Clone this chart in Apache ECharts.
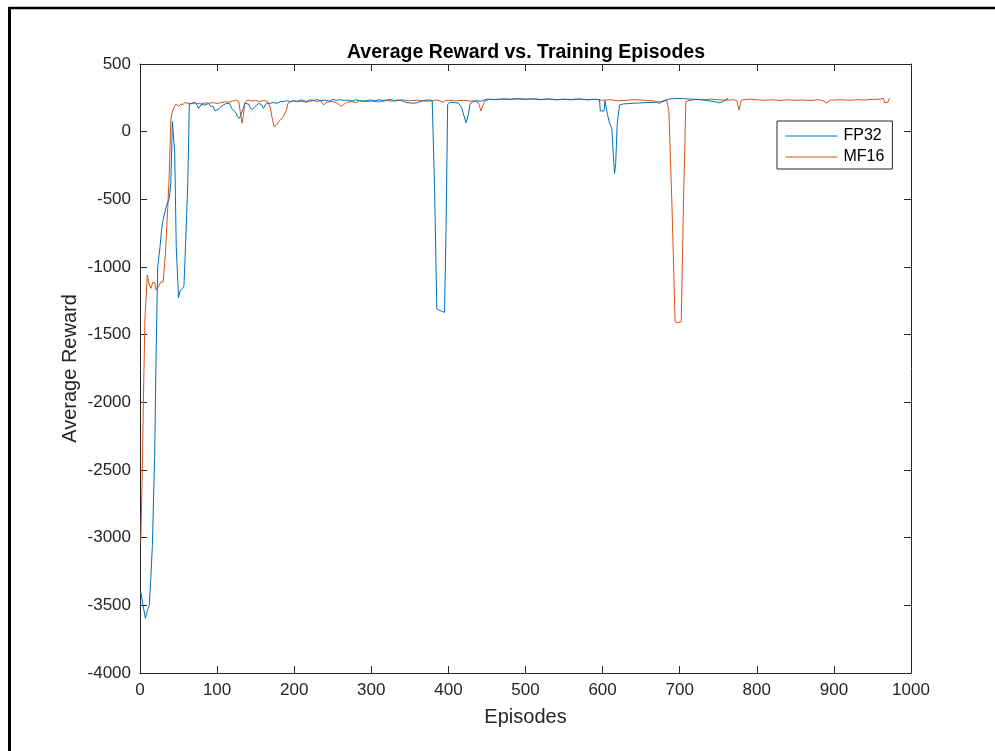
<!DOCTYPE html>
<html>
<head>
<meta charset="utf-8">
<script src="https://cdn.jsdelivr.net/npm/echarts@6/dist/echarts.min.js"></script>
<style>
html,body{margin:0;padding:0;background:#fff;}
#chart{width:995px;height:751px;}
</style>
</head>
<body>
<div id="chart"></div>
<script>
const titleText = 'Average Reward vs. Training Episodes';
const xName = 'Episodes';
const yName = 'Average Reward';
const seriesNames = ['FP32', 'MF16'];

const fp32 = [[1,-3400],[4,-3500],[7,-3596],[10,-3530],[12,-3500],[14,-3300],[16,-3066],[19,-2400],[21,-1600],[23,-1000],[26,-850],[28,-720],[30,-650],[34,-555],[38,-490],[40,-380],[42,74],[43,70],[45,-150],[47,-850],[50,-1227],[52,-1175],[55,-1160],[57,-1140],[59,-850],[62,-380],[64,210],[67,209],[71,217],[74,197],[76,172],[78,185],[80,204],[84,197],[89,209],[91,190],[93,204],[95,185],[97,155],[99,148],[102,165],[104,180],[108,197],[112,209],[116,209],[119,172],[122,155],[125,135],[126,111],[129,99],[131,91],[134,172],[136,209],[141,204],[143,172],[146,165],[149,185],[154,209],[158,197],[160,172],[162,190],[164,209],[169,209],[173,217],[177,209],[182,222],[186,222],[190,229],[195,222],[199,229],[203,222],[208,234],[212,230],[216,222],[220,234],[225,232],[230,236],[235,228],[240,234],[245,225],[250,238],[255,232],[260,236],[265,230],[270,234],[275,226],[280,236],[285,230],[290,226],[295,232],[300,234],[305,228],[310,236],[315,230],[320,234],[325,238],[330,230],[335,234],[340,228],[345,215],[350,212],[355,210],[360,215],[365,225],[370,232],[375,234],[379,230],[382,-400],[385,-1310],[388,-1320],[391,-1325],[395,-1335],[397,-700],[399,200],[402,217],[408,215],[413,210],[417,180],[420,120],[423,66],[426,130],[428,205],[432,222],[437,228],[442,225],[446,232],[450,240],[460,238],[470,242],[480,240],[490,244],[500,240],[510,243],[520,238],[530,242],[540,236],[550,240],[560,238],[570,242],[580,236],[590,240],[596,236],[597,153],[602,153],[603,229],[606,136],[609,62],[612,25],[614,-185],[615.5,-308],[617,-234],[619,62],[622,197],[627,205],[640,210],[655,214],[670,218],[680,225],[686,241],[695,245],[705,244],[715,240],[725,238],[735,230],[745,222],[752,213],[757,225],[763,247]];

const mf16 = [[1,-3030],[3,-2500],[4.3,-2007],[6.5,-1367],[9.5,-1059],[12,-1133],[14.3,-1157],[16.4,-1116],[19,-1114],[20.8,-1170],[23.8,-1145],[26.8,-1113],[30,-1110],[33,-900],[36,-560],[38,-300],[40,86],[42,150],[44,180],[47,205],[50,185],[53,205],[56,200],[58,215],[62,210],[66,205],[70,212],[75,208],[80,205],[85,213],[90,210],[95,215],[100,208],[105,215],[110,220],[115,218],[120,225],[124,234],[128,225],[130,150],[132.5,62],[134,120],[136,215],[140,234],[145,225],[150,230],[155,222],[160,230],[165,225],[169,180],[171,111],[174,37],[177,49],[180,75],[182,86],[186,111],[188,136],[190,160],[192,210],[195,222],[200,228],[205,222],[210,225],[215,218],[220,225],[225,230],[230,222],[234,230],[238,197],[242,215],[248,225],[252,220],[256,210],[261,188],[264,200],[268,218],[275,222],[280,215],[285,228],[290,222],[300,225],[310,220],[320,230],[330,226],[340,235],[350,228],[360,232],[370,225],[380,228],[385,235],[390,225],[393,215],[396,230],[400,232],[410,228],[420,232],[430,225],[436,228],[440,200],[442,153],[444,160],[447,225],[452,238],[460,236],[470,240],[480,238],[490,242],[500,238],[510,241],[520,236],[530,240],[540,236],[550,239],[560,235],[570,240],[580,236],[590,238],[600,232],[610,236],[620,228],[630,232],[640,236],[650,234],[660,230],[668,226],[672,212],[675,210],[678,228],[683,236],[686,150],[690,-550],[694,-1404],[697,-1412],[702,-1404],[705,-500],[708,222],[712,230],[720,238],[730,236],[740,240],[750,236],[760,232],[770,236],[774,230],[777,160],[780,234],[790,240],[800,236],[810,232],[820,236],[830,230],[840,236],[850,232],[860,234],[870,230],[880,236],[887,226],[891,210],[894,232],[900,234],[910,236],[920,232],[930,236],[940,234],[950,238],[960,240],[964,247],[966,213],[970,218],[972,247]];

const xMin = 0, xMax = 1000, xStep = 100;
const yMin = -4000, yMax = 500, yStep = 500;

const axisColor = '#262626';
const font = '"Liberation Sans", Arial, Helvetica, sans-serif';

const chart = echarts.init(document.getElementById('chart'), null, {renderer: 'canvas'});

const baseAxis = {
  axisLine: {show: true, onZero: false, lineStyle: {color: axisColor, width: 1}},
  axisTick: {show: true, inside: true, length: 7, lineStyle: {color: axisColor}},
  splitLine: {show: false},
};
const plain = v => String(v);

chart.setOption({
  animation: false,
  backgroundColor: '#fff',
  title: {
    text: titleText,
    left: 521, textAlign: 'center', top: 38,
    textStyle: {fontFamily: font, fontSize: 19.5, fontWeight: 'bold', color: '#000'}
  },
  grid: {left: 140, top: 64, width: 771, height: 609, containLabel: false},
  legend: {
    data: seriesNames,
    orient: 'vertical',
    left: 777, top: 121,
    padding: [7, 8, 4, 8],
    itemWidth: 52, itemHeight: 14, itemGap: 5,
    itemStyle: {opacity: 0},
    lineStyle: {width: 1},
    borderColor: axisColor, borderWidth: 1, borderRadius: 0,
    backgroundColor: '#fff',
    textStyle: {fontFamily: font, fontSize: 16, color: '#000', padding: [0, 0, 0, 1]}
  },
  xAxis: [
    Object.assign({}, baseAxis, {
      type: 'value', min: xMin, max: xMax, interval: xStep, position: 'bottom',
      name: xName, nameLocation: 'middle', nameGap: 34, nameMoveOverlap: false,
      nameTextStyle: {fontFamily: font, fontSize: 20, color: axisColor},
      axisLabel: {fontFamily: font, fontSize: 17, color: axisColor, margin: 9, formatter: plain}
    }),
    Object.assign({}, baseAxis, {
      type: 'value', min: xMin, max: xMax, interval: xStep, position: 'top',
      axisLabel: {show: false}
    })
  ],
  yAxis: [
    Object.assign({}, baseAxis, {
      type: 'value', min: yMin, max: yMax, interval: yStep, position: 'left',
      name: yName, nameLocation: 'middle', nameGap: 60, nameRotate: 90, nameMoveOverlap: false,
      nameTextStyle: {fontFamily: font, fontSize: 20, color: axisColor},
      axisLabel: {fontFamily: font, fontSize: 17, color: axisColor, margin: 9, formatter: plain}
    }),
    Object.assign({}, baseAxis, {
      type: 'value', min: yMin, max: yMax, interval: yStep, position: 'right',
      axisLabel: {show: false}
    })
  ],
  series: [
    {name: seriesNames[0], type: 'line', data: fp32, symbol: 'none', showSymbol: false,
     lineStyle: {color: '#0072BD', width: 1}, itemStyle: {color: '#0072BD'}, z: 3},
    {name: seriesNames[1], type: 'line', data: mf16, symbol: 'none', showSymbol: false,
     lineStyle: {color: '#D95319', width: 1}, itemStyle: {color: '#D95319'}, z: 2}
  ],
  graphic: [
    {type: 'line', shape: {x1: 9, y1: 8, x2: 995, y2: 8}, style: {stroke: '#000', lineWidth: 2.5}, silent: true},
    {type: 'line', shape: {x1: 9.5, y1: 7, x2: 9.5, y2: 751}, style: {stroke: '#000', lineWidth: 3}, silent: true}
  ]
});
</script>
</body>
</html>
